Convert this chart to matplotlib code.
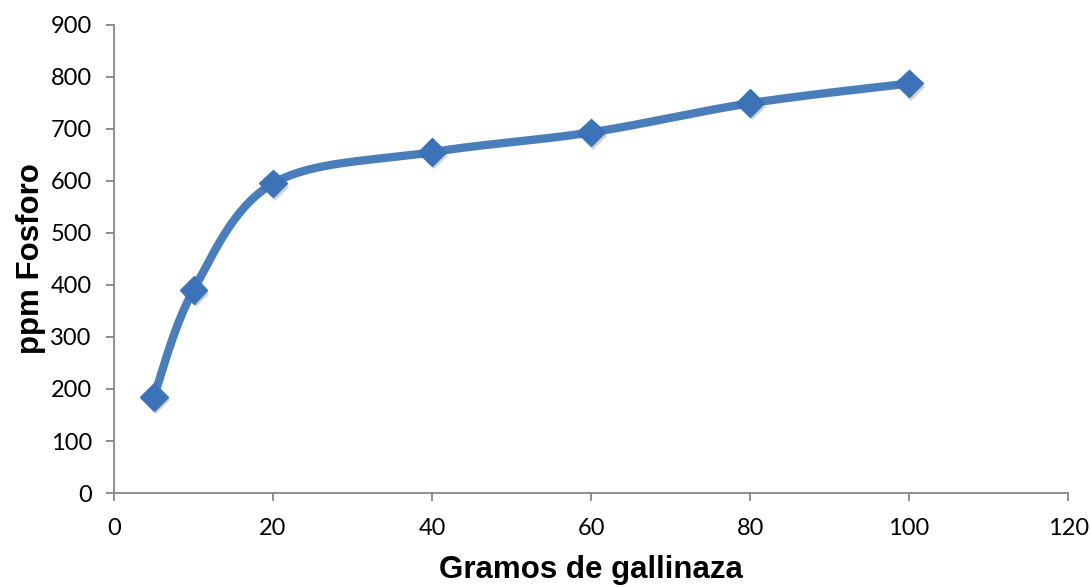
import numpy as np
import matplotlib
matplotlib.use("Agg")
import matplotlib.pyplot as plt
import matplotlib.patheffects as pe

# Data
gramos = [5, 10, 20, 40, 60, 80, 100]
fosforo = [185, 390, 595, 655, 693, 749, 787]
x_ticks = [0, 20, 40, 60, 80, 100, 120]
y_ticks = [0, 100, 200, 300, 400, 500, 600, 700, 800, 900]

LINE_COLOR = "#4A7EBB"
MARKER_COLOR = "#3C73B8"
AXIS_COLOR = "#868686"


def smooth_curve(xs, ys, n=60):
    """Catmull-Rom style cubic Bezier smoothing through all points."""
    p = np.column_stack([xs, ys]).astype(float)
    pts = []
    for i in range(len(p) - 1):
        p0 = p[i - 1] if i > 0 else p[i]
        p1 = p[i]
        p2 = p[i + 1]
        p3 = p[i + 2] if i + 2 < len(p) else p[i + 1]
        c1 = p1 + (p2 - p0) / 6.0
        c2 = p2 - (p3 - p1) / 6.0
        t = np.linspace(0, 1, n)[:, None]
        seg = ((1 - t) ** 3) * p1 + 3 * ((1 - t) ** 2) * t * c1 \
            + 3 * (1 - t) * t ** 2 * c2 + t ** 3 * p2
        pts.append(seg if i == 0 else seg[1:])
    curve = np.vstack(pts)
    return curve[:, 0], curve[:, 1]


fig = plt.figure(figsize=(10.91, 5.87), dpi=100)
ax = fig.add_axes([0.1045, 0.160, 0.8745, 0.798])

cx, cy = smooth_curve(gramos, fosforo)
ax.plot(cx, cy, color=LINE_COLOR, lw=6, solid_capstyle="round", zorder=2)
ax.plot(gramos, fosforo, linestyle="none", marker="D", markersize=14,
        markerfacecolor=MARKER_COLOR, markeredgecolor=MARKER_COLOR, zorder=3,
        path_effects=[pe.SimplePatchShadow(offset=(1.5, -2.5), alpha=0.18,
                                           shadow_rgbFace="black"),
                      pe.Normal()])

ax.set_xlim(0, 120)
ax.set_ylim(0, 900)
ax.set_xticks(x_ticks)
ax.set_yticks(y_ticks)

tick_font = dict(family=["Lato", "DejaVu Sans"], size=17)
ax.set_xticklabels([str(v) for v in x_ticks], **tick_font)
ax.set_yticklabels([str(v) for v in y_ticks], **tick_font)

for side in ("top", "right"):
    ax.spines[side].set_visible(False)
for side in ("left", "bottom"):
    ax.spines[side].set_color(AXIS_COLOR)
    ax.spines[side].set_linewidth(1.3)
ax.tick_params(axis="both", direction="out", length=6, width=1.3,
               color=AXIS_COLOR, labelcolor="black")
ax.tick_params(axis="x", pad=12)
ax.tick_params(axis="y", pad=10)

label_font = dict(family=["Liberation Sans", "DejaVu Sans"], size=22.5,
                  weight="bold")
fig.text(0.542, 0.029, "Gramos de gallinaza", ha="center", va="center",
         **label_font)
fig.text(0.028, 0.56, "ppm Fosforo", ha="center", va="center",
         rotation=90, **label_font)

fig.savefig("out.png", dpi=100, facecolor="white")
